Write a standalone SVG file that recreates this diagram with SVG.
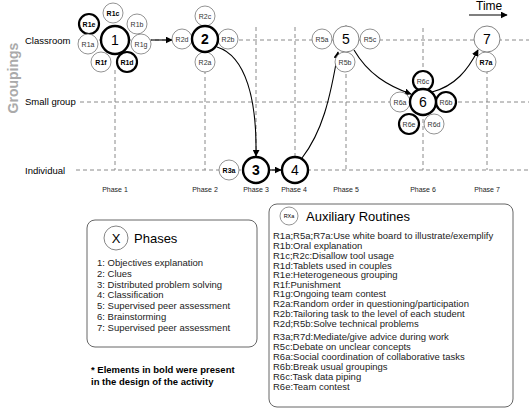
<svg xmlns="http://www.w3.org/2000/svg" width="529" height="412" viewBox="0 0 529 412">
<style>
text{font-family:"Liberation Sans",Arial,sans-serif;fill:#000}
.grid{stroke:#8a8a8a;stroke-width:1;stroke-dasharray:4,3;fill:none}
.sc{fill:#fff;stroke:#777;stroke-width:0.8}
.sb{fill:#fff;stroke:#000;stroke-width:2.2}
.mc{fill:#fff;stroke:#777;stroke-width:0.9}
.mb{fill:#fff;stroke:#000;stroke-width:2.4}
.sl{font-size:7px;text-anchor:middle;fill:#333}
.slb{font-size:7px;text-anchor:middle;font-weight:bold}
.ml{font-size:14px;text-anchor:middle}
.mlb{font-size:14px;text-anchor:middle;font-weight:bold}
.row{font-size:9.5px}
.ph{font-size:7px;text-anchor:middle;fill:#222}
.lg{font-size:9.5px;fill:#222}
.conn{fill:none;stroke:#000;stroke-width:1.1}
.box{fill:#fff;stroke:#666;stroke-width:1}
</style>
<defs>
<marker id="ah" viewBox="0 0 10 10" refX="9" refY="5" markerWidth="7" markerHeight="7" orient="auto" markerUnits="userSpaceOnUse">
<path d="M0,0 L10,5 L0,10 z" fill="#000"/>
</marker>
</defs>
<g id="grid">
<line class="grid" x1="78" y1="40" x2="529" y2="40"/>
<line class="grid" x1="80" y1="102" x2="529" y2="102"/>
<line class="grid" x1="76" y1="170" x2="529" y2="170"/>
<line class="grid" x1="115" y1="70" x2="115" y2="170"/>
<line class="grid" x1="205" y1="70" x2="205" y2="170"/>
<line class="grid" x1="256" y1="27" x2="256" y2="170"/>
<line class="grid" x1="295" y1="27" x2="295" y2="170"/>
<line class="grid" x1="346" y1="25" x2="346" y2="170"/>
<line class="grid" x1="423" y1="28" x2="423" y2="170"/>
<line class="grid" x1="487" y1="70" x2="487" y2="170"/>
</g>
<g id="labels">
<text class="row" x="25" y="44">Classroom</text>
<text class="row" x="25" y="105">Small group</text>
<text class="row" x="25" y="174">Individual</text>
<text x="18" y="78" transform="rotate(-90 18 78)" style="font-size:14px;font-weight:bold;fill:#aaa;text-anchor:middle">Groupings</text>
<text x="476" y="10" style="font-size:12px">Time</text>
<line x1="469" y1="15" x2="507" y2="15" stroke="#000" stroke-width="1.2" marker-end="url(#ah)"/>
<text class="ph" x="115" y="192">Phase 1</text>
<text class="ph" x="205" y="192">Phase 2</text>
<text class="ph" x="256" y="192">Phase 3</text>
<text class="ph" x="294" y="192">Phase 4</text>
<text class="ph" x="346" y="192">Phase 5</text>
<text class="ph" x="423" y="192">Phase 6</text>
<text class="ph" x="487" y="192">Phase 7</text>
</g>
<g id="connectors">
<line class="conn" x1="151" y1="40" x2="172" y2="40" marker-end="url(#ah)"/>
<path class="conn" d="M217,47 C246,56 257,100 256,156" stroke="#444" stroke-width="0.9" marker-end="url(#ah)"/>
<line class="conn" x1="269" y1="170" x2="281" y2="170" marker-end="url(#ah)"/>
<path class="conn" d="M302,158 C322,132 330,100 338,52" marker-end="url(#ah)"/>
<path class="conn" d="M354,50 C368,74 388,86 411,94" marker-end="url(#ah)"/>
<path class="conn" d="M432,92 C455,86 468,70 478,50" marker-end="url(#ah)"/>
</g>
<g id="node1">
<circle class="sc" cx="113" cy="13" r="10"/><text class="slb" x="113" y="15.5">R1c</text>
<circle class="sb" cx="89" cy="24" r="10"/><text class="slb" x="89" y="26.5">R1e</text>
<circle class="sc" cx="137" cy="24" r="10"/><text class="sl" x="137" y="26.5">R1b</text>
<circle class="sc" cx="88" cy="44" r="10"/><text class="sl" x="88" y="46.5">R1a</text>
<circle class="sc" cx="141" cy="44" r="10"/><text class="sl" x="141" y="46.5">R1g</text>
<circle class="sc" cx="101" cy="62" r="10"/><text class="slb" x="101" y="64.5">R1f</text>
<circle class="sb" cx="127" cy="62" r="10"/><text class="slb" x="127" y="64.5">R1d</text>
<circle class="mb" cx="115" cy="40" r="14"/><text class="ml" x="115" y="45">1</text>
</g>
<g id="node2">
<circle class="sc" cx="205" cy="16" r="10"/><text class="sl" x="205" y="18.5">R2c</text>
<circle class="sc" cx="182" cy="39" r="10"/><text class="sl" x="182" y="41.5">R2d</text>
<circle class="sc" cx="228" cy="39" r="10"/><text class="sl" x="228" y="41.5">R2b</text>
<circle class="sc" cx="205" cy="62" r="10"/><text class="sl" x="205" y="64.5">R2a</text>
<circle class="mb" cx="205" cy="39" r="13"/><text class="mlb" x="205" y="44">2</text>
</g>
<g id="node3">
<circle class="sc" cx="229" cy="170" r="10"/><text class="slb" x="229" y="172.5">R3a</text>
<circle class="mb" cx="256" cy="170" r="13"/><text class="mlb" x="256" y="175">3</text>
</g>
<g id="node4">
<circle class="mb" cx="295" cy="170" r="13"/><text class="ml" x="295" y="175">4</text>
</g>
<g id="node5">
<circle class="sc" cx="322" cy="39" r="10"/><text class="sl" x="322" y="41.5">R5a</text>
<circle class="sc" cx="370" cy="39" r="10"/><text class="sl" x="370" y="41.5">R5c</text>
<circle class="sc" cx="345" cy="62" r="10"/><text class="sl" x="345" y="64.5">R5b</text>
<circle class="mc" cx="346" cy="39" r="13"/><text class="ml" x="346" y="44">5</text>
</g>
<g id="node6">
<circle class="sb" cx="423" cy="81" r="10"/><text class="sl" x="423" y="83.5">R6c</text>
<circle class="sc" cx="400" cy="102" r="10"/><text class="sl" x="400" y="104.5">R6a</text>
<circle class="sb" cx="446" cy="102" r="10"/><text class="sl" x="446" y="104.5">R6b</text>
<circle class="sb" cx="409" cy="124" r="10"/><text class="sl" x="409" y="126.5">R6e</text>
<circle class="sc" cx="434" cy="124" r="10"/><text class="sl" x="434" y="126.5">R6d</text>
<circle class="mb" cx="423" cy="102" r="13"/><text class="ml" x="423" y="107">6</text>
</g>
<g id="node7">
<circle class="sc" cx="486" cy="62" r="10"/><text class="slb" x="486" y="64.5">R7a</text>
<circle class="mc" cx="487" cy="39" r="13"/><text class="ml" x="487" y="44">7</text>
</g>
<g id="legend-phases">
<rect class="box" x="87" y="220" width="170" height="127" rx="8"/>
<circle class="mc" cx="116" cy="238" r="12"/><text class="ml" x="116" y="243" style="font-size:13px">X</text>
<text x="134" y="243" style="font-size:13px">Phases</text>
<text class="lg" x="97" y="266">1: Objectives explanation</text>
<text class="lg" x="97" y="277">2: Clues</text>
<text class="lg" x="97" y="287.5">3: Distributed problem solving</text>
<text class="lg" x="97" y="298">4: Classification</text>
<text class="lg" x="97" y="309">5: Supervised peer assessment</text>
<text class="lg" x="97" y="320">6: Brainstorming</text>
<text class="lg" x="97" y="331">7: Supervised peer assessment</text>
</g>
<g id="note">
<text x="91" y="373" style="font-size:9.5px;font-weight:bold">* Elements in bold were present</text>
<text x="91" y="385" style="font-size:9.5px;font-weight:bold">in the design of the activity</text>
</g>
<g id="legend-routines">
<rect class="box" x="269" y="204" width="244" height="203" rx="8"/>
<circle class="sc" cx="289" cy="216" r="9"/><text x="289" y="218" style="font-size:5.5px;text-anchor:middle">RXa</text>
<text x="306" y="221" style="font-size:13px">Auxiliary Routines</text>
<text class="lg" x="273" y="239">R1a;R5a;R7a:Use white board to illustrate/exemplify</text>
<text class="lg" x="273" y="249">R1b:Oral explanation</text>
<text class="lg" x="273" y="259">R1c;R2c:Disallow tool usage</text>
<text class="lg" x="273" y="268.5">R1d:Tablets used in couples</text>
<text class="lg" x="273" y="278">R1e:Heterogeneous grouping</text>
<text class="lg" x="273" y="287.5">R1f:Punishment</text>
<text class="lg" x="273" y="297">R1g:Ongoing team contest</text>
<text class="lg" x="273" y="307">R2a:Random order in questioning/participation</text>
<text class="lg" x="273" y="317">R2b:Tailoring task to the level of each student</text>
<text class="lg" x="273" y="327">R2d;R5b:Solve technical problems</text>
<text class="lg" x="273" y="340">R3a;R7d:Mediate/give advice during work</text>
<text class="lg" x="273" y="350">R5c:Debate on unclear concepts</text>
<text class="lg" x="273" y="360">R6a:Social coordination of collaborative tasks</text>
<text class="lg" x="273" y="370">R6b:Break usual groupings</text>
<text class="lg" x="273" y="380">R6c:Task data piping</text>
<text class="lg" x="273" y="390">R6e:Team contest</text>
</g>
</svg>
